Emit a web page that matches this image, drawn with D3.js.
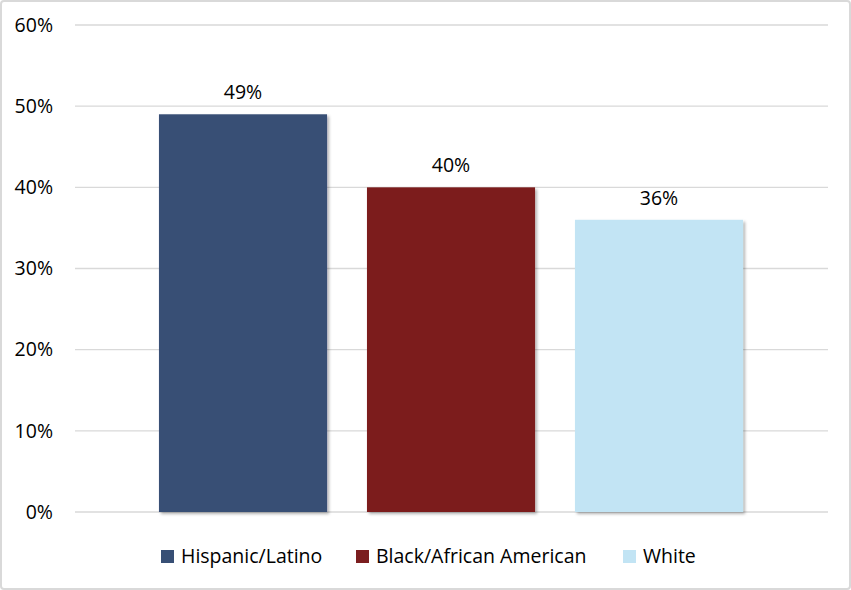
<!DOCTYPE html>
<html>
<head>
<meta charset="utf-8">
<script src="https://cdn.jsdelivr.net/npm/d3@7"></script>
<style>
  html, body { margin: 0; padding: 0; background: #fff; }
  svg { display: block; }
  text { font-family: "Open Sans", "Noto Sans", sans-serif; fill: #000; }
</style>
</head>
<body>
<svg id="chart" width="851" height="590"></svg>
<script>
const categories = ["Hispanic/Latino", "Black/African American", "White"];
const values = [0.49, 0.40, 0.36];
const colors = ["#374F75", "#7B1E1F", "#C2E4F4"];
const yTicks = [0, 0.1, 0.2, 0.3, 0.4, 0.5, 0.6];

const svg = d3.select("#chart");
const W = 851, H = 590;
const FS = 19.5;

// outer border
svg.append("rect")
  .attr("x", 1).attr("y", 1).attr("width", W - 2).attr("height", H - 2)
  .attr("rx", 3).attr("fill", "#fff").attr("stroke", "#d9d9d9").attr("stroke-width", 2);

const defs = svg.append("defs");
const f = defs.append("filter").attr("id", "shadow")
  .attr("x", "-10%").attr("y", "-10%").attr("width", "130%").attr("height", "130%");
f.append("feDropShadow").attr("dx", 2).attr("dy", 2).attr("stdDeviation", 1.6)
  .attr("flood-color", "#000").attr("flood-opacity", 0.3);

const plotLeft = 75, plotRight = 828;
const y = d3.scaleLinear().domain([0, 0.6]).range([512, 25]);
const x = d3.scaleBand().domain(categories).range([139, 763])
  .paddingInner(0.192).paddingOuter(0.096);

// gridlines
svg.append("g").selectAll("line").data(yTicks).join("line")
  .attr("x1", plotLeft).attr("x2", plotRight)
  .attr("y1", d => y(d)).attr("y2", d => y(d))
  .attr("stroke", "#d9d9d9").attr("stroke-width", 1.3);

// y axis labels
const yAxis = d3.axisLeft(y).tickValues(yTicks).tickFormat(d3.format(".0%")).tickSize(0).tickPadding(0);
const ya = svg.append("g").attr("transform", "translate(53,0)").call(yAxis);
ya.select(".domain").remove();
ya.selectAll("text").attr("font-size", FS).attr("fill", "#000")
  .style("font-family", '"Open Sans", "Noto Sans", sans-serif');

// bars
svg.append("g").selectAll("rect").data(values).join("rect")
  .attr("x", (d, i) => x(categories[i]))
  .attr("width", x.bandwidth())
  .attr("y", d => y(d))
  .attr("height", d => y(0) - y(d))
  .attr("fill", (d, i) => colors[i])
  .attr("filter", "url(#shadow)");

// data labels
svg.append("g").selectAll("text").data(values).join("text")
  .attr("x", (d, i) => x(categories[i]) + x.bandwidth() / 2)
  .attr("y", d => y(d) - 15)
  .attr("text-anchor", "middle")
  .attr("font-size", FS)
  .text(d => d3.format(".0%")(d));

// legend
const legendX = [161, 356, 623];
const lg = svg.append("g");
categories.forEach((c, i) => {
  lg.append("rect").attr("x", legendX[i]).attr("y", 550).attr("width", 13).attr("height", 13)
    .attr("fill", colors[i]);
  lg.append("text").attr("x", legendX[i] + 20).attr("y", 556.5).attr("dy", "0.35em")
    .attr("font-size", FS).text(c);
});
</script>
</body>
</html>
